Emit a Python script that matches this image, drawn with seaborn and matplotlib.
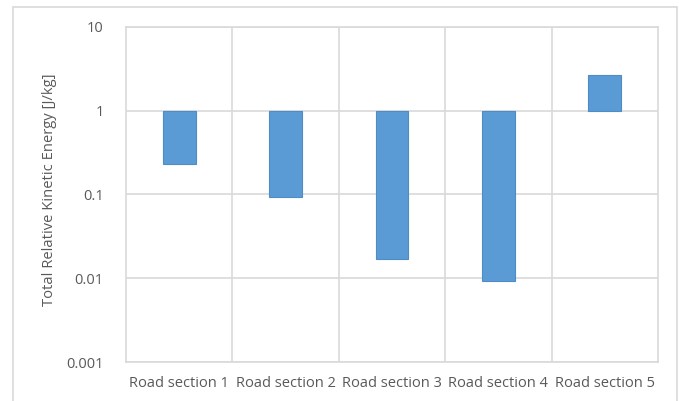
import numpy as np
import pandas as pd
import matplotlib
matplotlib.use("Agg")
import matplotlib.pyplot as plt
import matplotlib.ticker as mticker
from matplotlib.patches import Rectangle
import seaborn as sns

# Road sections and their total relative kinetic energy [J/kg]
sections = ["Road section 1", "Road section 2", "Road section 3",
            "Road section 4", "Road section 5"]
energy = [0.233, 0.094, 0.0172, 0.0092, 2.65]

y_ticks = [0.001, 0.01, 0.1, 1, 10]
y_tick_labels = ["0.001", "0.01", "0.1", "1", "10"]

grid_col = "#D9D9D9"
text_col = "#595959"
bar_col = "#5B9BD5"
baseline = 1.0

sns.set_theme(style="white")
plt.rcParams["font.family"] = ["Open Sans", "DejaVu Sans"]

fig = plt.figure(figsize=(6.79, 4.01), dpi=100)
ax = fig.add_axes([126 / 679, 1 - 362 / 401, (658 - 126) / 679, (362 - 27) / 401])

df = pd.DataFrame({"section": sections, "energy": energy})
df["offset"] = df["energy"] - baseline

# Bars grow from the baseline of 1 (up for values above, down for below)
sns.barplot(data=df, x="section", y="offset", ax=ax, color=bar_col,
            saturation=1, width=0.31, bottom=baseline,
            edgecolor="#4F8BC4", linewidth=0.8, errorbar=None)

ax.set_yscale("log")
ax.set_ylim(0.001, 10)
ax.set_xlim(-0.5, len(sections) - 0.5)
ax.yaxis.set_major_locator(mticker.FixedLocator(y_ticks))
ax.yaxis.set_major_formatter(mticker.FixedFormatter(y_tick_labels))
ax.yaxis.set_minor_locator(mticker.NullLocator())
ax.xaxis.set_minor_locator(mticker.FixedLocator(np.arange(0.5, len(sections) - 0.5, 1)))

ax.grid(True, axis="y", which="major", color=grid_col, linewidth=1.2)
ax.grid(True, axis="x", which="minor", color=grid_col, linewidth=1.2)
ax.set_axisbelow(True)
for sp in ax.spines.values():
    sp.set_color(grid_col)
    sp.set_linewidth(1.2)

ax.tick_params(axis="both", which="both", length=0, labelsize=10.5, colors=text_col)
ax.tick_params(axis="y", pad=16)
ax.tick_params(axis="x", pad=10)
for lab in ax.get_yticklabels():
    lab.set_horizontalalignment("right")
ax.set_xlabel("")
ax.set_ylabel("Total Relative Kinetic Energy [J/kg]", fontsize=10.6, color=text_col)
ax.yaxis.set_label_coords((57 - 126) / 532, (362 - 189.5) / 335)

# Chart area frame
fig.patches.append(Rectangle((13 / 679, -0.05), (677 - 13) / 679, 1 - 7 / 401 + 0.05,
                             transform=fig.transFigure, fill=False,
                             edgecolor=grid_col, linewidth=1.2))

fig.savefig("out.png", dpi=100)
